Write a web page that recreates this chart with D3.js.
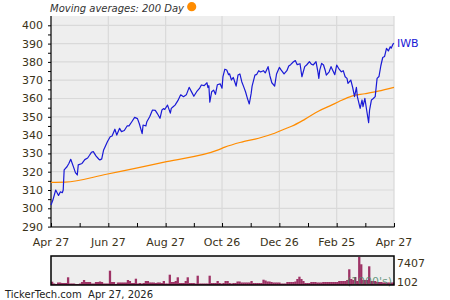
<!DOCTYPE html>
<html><head><meta charset="utf-8">
<script src="https://cdn.jsdelivr.net/npm/d3@7"></script>
<style>body{margin:0;background:#fff}svg{display:block}</style>
</head><body><svg id="c" width="450" height="300"></svg>
<script>
const startDate = "2025-04-27";
const tickDates = ["2025-04-27","2025-06-27","2025-08-27","2025-10-26","2025-12-26","2026-02-25","2026-04-27"];
const tickLabels = ["Apr 27","Jun 27","Aug 27","Oct 26","Dec 26","Feb 25","Apr 27"];
const yTicks = [290,300,310,320,330,340,350,360,370,380,390,400];
const yMinorTicks = [295,305,315,325,335,345,355,365,375,385,395];
const dayOffsets = [0,2,5,8,10,12,13,14,17,19,21,24,26,28,29,33,36,39,41,43,45,48,51,52,54,56,57,60,63,65,68,70,73,75,78,81,83,86,89,92,94,97,98,101,102,105,108,111,113,116,118,120,121,124,127,128,130,132,135,138,141,144,147,150,152,155,158,160,163,166,167,168,169,171,173,175,177,180,182,183,185,187,189,190,192,194,197,199,201,203,205,207,209,211,213,214,217,219,221,223,226,228,231,233,235,238,240,243,245,248,251,253,255,258,260,262,265,267,270,272,275,277,279,282,284,285,286,288,290,292,293,296,298,300,302,304,306,309,311,313,315,316,319,321,323,325,326,329,331,332,334,336,338,339,341,343,345,347,349,351,353,355,357,359,361,362,364,365];
const prices = [301.8,304.5,310,307,309,308.5,310,321,322.7,324.5,326.8,322.5,319.5,318.2,323.7,324.5,326.6,327.5,329,330.6,331,328.5,326.8,326.4,327,331.9,333,336.4,339.1,339.5,343.2,340,343.7,341.9,342.5,345,345,347.3,349.7,349,346.2,340.8,345.5,345,347.3,350,353.7,353.5,351.9,349.2,353.7,354.5,354,356.4,352,354.6,355.5,356.4,358.8,362,361,362,366.1,363.2,361.2,363.7,365.5,367.4,367,368.6,366,367,358,363.7,364.6,362.3,367.5,368,365.6,372,376,375.6,373,373.5,370.1,371.5,366.8,372.8,373.4,369.2,366.5,363.7,360.1,357,362.8,366.8,372.8,373.2,375.2,374.5,375.2,374,377.4,372.3,368.6,366.8,373.4,377,375.5,373.4,375.2,377.8,378.5,380.1,380.7,378.5,379,371.9,377.4,378.3,380.1,378.8,378.3,380.1,374.6,371,375.5,379.2,378.3,375,372.8,374.6,377.4,375.2,373,378.3,376.5,374.6,375.2,371.9,371,368.3,370.1,366.1,361,366.1,361,354.6,359.2,355.5,360.1,353.3,346.8,353.7,359.2,360,361,371,372,377.9,382.4,383,387.4,386,388.3,387.5,389.8,390.2];
const maDays = [0,15,59,123,178,185,203,221,238,248,256,270,285,299,306,320,334,348,365];
const maValues = [314.2,314.3,318.6,325.5,331.9,333.4,336.2,338.3,341,343.2,344.8,348.6,353.2,356.5,358.2,361.3,362.6,364,366.1];
const volumes = [963,494,363,755,755,624,624,624,2112,494,
494,494,363,363,494,885,1407,885,885,885,
494,494,885,885,1016,885,494,494,494,3834,
885,885,363,755,755,755,755,755,1407,1146,
624,624,1746,494,624,494,624,1146,1146,755,
755,755,624,755,755,624,1146,494,494,2790,
885,885,1146,2112,624,624,624,1146,2112,624,
624,624,494,2529,494,494,494,494,494,2529,
624,624,624,1146,624,494,624,1146,1146,624,
494,624,624,1016,1016,755,755,755,755,755,
1146,624,624,624,624,624,1485,1277,1016,1016,
885,755,755,755,755,494,494,494,885,885,
885,885,1016,1668,2268,1668,1146,624,624,624,
885,885,885,755,755,755,885,885,885,885,
885,885,885,885,1146,1146,1146,1146,1407,4200,
1668,1407,2190,1146,7407,5505,1407,1407,1407,4983,
1146,1146,1146,885,885,885,755,755,755,755,
755,755];
const volMax = 7407, volMin = 102;
const seriesName = "IWB";
const titleText = "Moving averages: 200 Day";
const footerText = "TickerTech.com  Apr 27, 2026";

const parse = d3.timeParse("%Y-%m-%d");
const t0 = parse(startDate);
const svg = d3.select("#c");
const L = 51, R = 394, T = 16, B = 227;
const font = "DejaVu Sans, Verdana, sans-serif";
const txtCol = "#3b3218";

const x = d3.scaleTime().domain([parse(tickDates[0]), parse(tickDates[tickDates.length-1])]).range([L, R]);
const y = d3.scaleLinear().domain([290, 400]).range([226.6, 25.3]);

svg.append("rect").attr("x", L).attr("y", T).attr("width", R-L).attr("height", B-T).attr("fill", "#eeeeee");

// grid
const g = svg.append("g");
g.selectAll("line.h").data(yTicks).join("line")
  .attr("x1", L).attr("x2", R).attr("y1", d=>y(d)).attr("y2", d=>y(d))
  .attr("stroke", "#d9d9d9").attr("stroke-width", 1.2);
const tds = tickDates.map(parse);
g.selectAll("line.v").data(tds.slice(1)).join("line")
  .attr("x1", d=>x(d)).attr("x2", d=>x(d)).attr("y1", T).attr("y2", B)
  .attr("stroke", "#d9d9d9").attr("stroke-width", 1.2);

// axes
const yAxis = d3.axisLeft(y).tickValues(yTicks.concat(yMinorTicks)).tickSize(3).tickFormat("");
const ya = svg.append("g").attr("transform", `translate(${L},0)`).call(yAxis);
ya.select(".domain").remove();
ya.selectAll(".tick line").attr("stroke", "#000");
svg.append("line").attr("x1", L).attr("x2", L).attr("y1", T).attr("y2", B).attr("stroke", "#000").attr("stroke-width", 1.2);

svg.append("g").selectAll("text").data(yTicks).join("text")
  .attr("x", 43).attr("y", d=>y(d)).attr("dy", "0.36em").attr("text-anchor", "end")
  .attr("font-family", font).attr("font-size", 11).attr("fill", txtCol).text(d=>d);

const mids = [];
for (let i = 0; i < tds.length-1; i++) mids.push(new Date((+tds[i] + +tds[i+1])/2));
const xAxis = d3.axisTop(x).tickValues(tds.concat(mids)).tickSize(4).tickFormat("");
const xa = svg.append("g").attr("transform", `translate(0,${B})`).call(xAxis);
xa.select(".domain").remove();
xa.selectAll(".tick line").attr("stroke", "#000");
svg.append("line").attr("x1", L).attr("x2", R+0.5).attr("y1", B).attr("y2", B).attr("stroke", "#000").attr("stroke-width", 1.2);

svg.append("g").selectAll("text").data(tds).join("text")
  .attr("x", d=>x(d)).attr("y", 245.5).attr("text-anchor", "middle")
  .attr("font-family", font).attr("font-size", 11).attr("fill", txtCol).text((d,i)=>tickLabels[i]);

// lines
const maData = maDays.map((d,i)=>({date: d3.timeDay.offset(t0, d), v: maValues[i]}));
svg.append("path").datum(maData)
  .attr("d", d3.line().x(d=>x(d.date)).y(d=>y(d.v)).curve(d3.curveMonotoneX))
  .attr("fill", "none").attr("stroke", "#ff8c00").attr("stroke-width", 1.2);

const pData = dayOffsets.map((d,i)=>({date: d3.timeDay.offset(t0, d), v: prices[i]}));
svg.append("path").datum(pData)
  .attr("d", d3.line().x(d=>x(d.date)).y(d=>y(d.v)))
  .attr("fill", "none").attr("stroke", "#1a1ad6").attr("stroke-width", 1.2).attr("stroke-linejoin", "round");

svg.append("text").attr("x", 397).attr("y", y(prices[prices.length-1])).attr("dy", "0.36em")
  .attr("font-family", font).attr("font-size", 11).attr("fill", "#1a1ad6").text(seriesName);

// title
svg.append("text").attr("x", 50).attr("y", 11.5).attr("font-family", font).attr("font-size", 10)
  .attr("font-style", "italic").attr("fill", "#333").text(titleText);
svg.append("circle").attr("cx", 191.7).attr("cy", 6.7).attr("r", 4.6).attr("fill", "#ff8c00");

// volume panel
const VT = 256, VB = 285;
svg.append("rect").attr("x", L).attr("y", VT).attr("width", R-L).attr("height", VB-VT).attr("fill", "#eeeeee");
const xb = d3.scaleBand().domain(d3.range(volumes.length)).range([L, R]).padding(0);
const yv = d3.scaleLinear().domain([volMin, volMax]).range([VB, VT+1]);
svg.append("g").selectAll("rect").data(volumes).join("rect")
  .attr("x", (d,i)=>xb(i)).attr("width", xb.bandwidth()+0.3)
  .attr("y", d=>yv(d)).attr("height", d=>VB-yv(d)).attr("fill", "#9e3366");
svg.append("text").attr("x", 392).attr("y", 281).attr("dy", "0.36em").attr("text-anchor", "end")
  .attr("font-family", font).attr("font-size", 11).attr("fill", "#4f8a6c").attr("fill-opacity", 0.85).text("(1000's)");
svg.append("rect").attr("x", L).attr("y", VT).attr("width", R-L).attr("height", VB-VT)
  .attr("fill", "none").attr("stroke", "#000").attr("stroke-width", 1.5);
svg.append("text").attr("x", 397).attr("y", 262.7).attr("dy", "0.36em")
  .attr("font-family", font).attr("font-size", 11).attr("fill", txtCol).text(volMax);
svg.append("text").attr("x", 397).attr("y", 281.7).attr("dy", "0.36em")
  .attr("font-family", font).attr("font-size", 11).attr("fill", txtCol).text(volMin);

// footer
svg.append("text").attr("x", 5).attr("y", 298).attr("font-family", font).attr("font-size", 10)
  .attr("fill", "#222").style("white-space", "pre").text(footerText);
</script>
</body></html>
